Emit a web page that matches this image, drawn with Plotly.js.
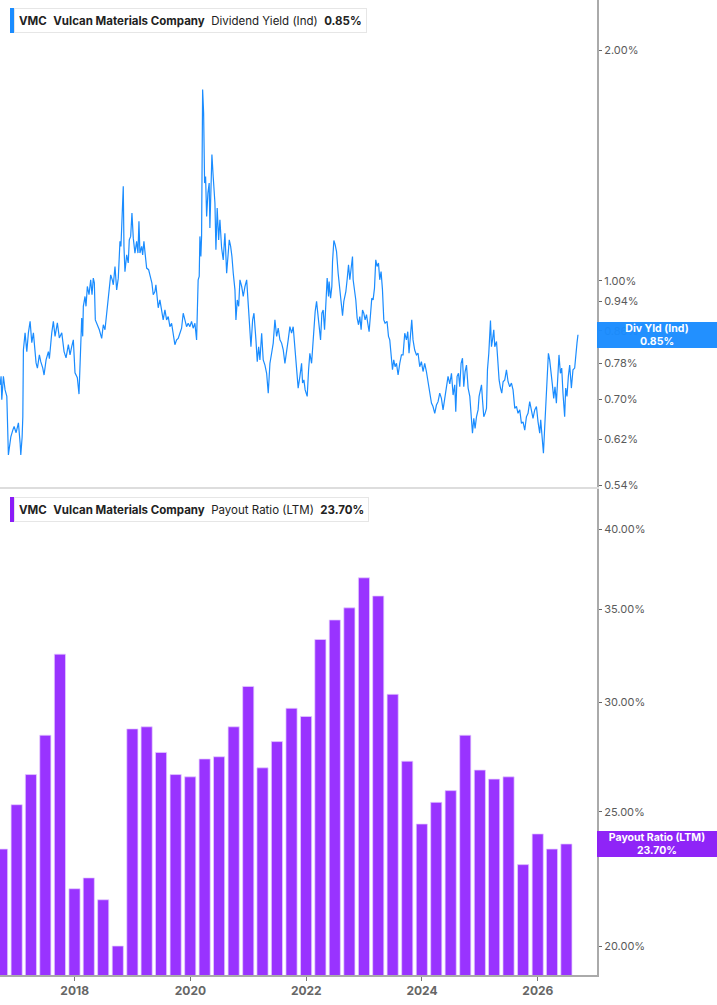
<!DOCTYPE html>
<html>
<head>
<meta charset="utf-8">
<script src="https://cdn.plot.ly/plotly-3.0.1.min.js"></script>
<style>
  html, body { margin: 0; padding: 0; background: #fff; }
  #chart { width: 717px; height: 1005px; }
</style>
</head>
<body>
<div id="chart"></div>
<script>
// dividend yield (Ind), in %, dates as decimal years
var yieldYears = [
  2016.712, 2016.729, 2016.741, 2016.769, 2016.798, 2016.828, 2016.855, 2016.897, 2016.931, 2016.954,
  2016.988, 2017.028, 2017.057, 2017.069, 2017.092, 2017.104, 2017.114, 2017.143, 2017.173, 2017.200,
  2017.230, 2017.259, 2017.287, 2017.316, 2017.333, 2017.356, 2017.390, 2017.414, 2017.449, 2017.471,
  2017.506, 2017.546, 2017.563, 2017.604, 2017.632, 2017.661, 2017.701, 2017.735, 2017.777, 2017.817,
  2017.851, 2017.891, 2017.920, 2017.949, 2017.977, 2018.006, 2018.046, 2018.075, 2018.093, 2018.122,
  2018.139, 2018.150, 2018.179, 2018.196, 2018.219, 2018.248, 2018.277, 2018.300, 2018.322, 2018.340,
  2018.357, 2018.391, 2018.426, 2018.467, 2018.495, 2018.524, 2018.554, 2018.581, 2018.598, 2018.623,
  2018.650, 2018.668, 2018.697, 2018.726, 2018.754, 2018.783, 2018.800, 2018.818, 2018.840, 2018.852,
  2018.869, 2018.899, 2018.926, 2018.944, 2018.968, 2018.990, 2019.013, 2019.042, 2019.071, 2019.094,
  2019.111, 2019.128, 2019.158, 2019.175, 2019.197, 2019.220, 2019.244, 2019.278, 2019.313, 2019.335,
  2019.358, 2019.387, 2019.404, 2019.427, 2019.444, 2019.473,
  2019.503, 2019.530, 2019.560, 2019.589, 2019.617, 2019.646, 2019.675, 2019.703, 2019.732, 2019.762,
  2019.789, 2019.819, 2019.848, 2019.876, 2019.905, 2019.934, 2019.962, 2019.991, 2020.020, 2020.048,
  2020.078, 2020.107, 2020.134, 2020.152, 2020.164, 2020.181, 2020.193, 2020.211, 2020.228, 2020.245,
  2020.262, 2020.280, 2020.302, 2020.324, 2020.336, 2020.354, 2020.371, 2020.393, 2020.423, 2020.440,
  2020.462, 2020.487, 2020.509, 2020.538, 2020.566, 2020.595, 2020.625, 2020.652, 2020.670, 2020.694,
  2020.716, 2020.739, 2020.768, 2020.785, 2020.808, 2020.832, 2020.854, 2020.884, 2020.911, 2020.941,
  2020.970, 2020.998, 2021.027, 2021.044, 2021.073, 2021.096, 2021.130, 2021.153, 2021.177, 2021.199,
  2021.229, 2021.256, 2021.286, 2021.315, 2021.343, 2021.372, 2021.401, 2021.429, 2021.458, 2021.488,
  2021.515, 2021.545, 2021.574, 2021.602, 2021.631, 2021.660, 2021.688, 2021.717, 2021.746, 2021.774,
  2021.803, 2021.833, 2021.860, 2021.890, 2021.919, 2021.936, 2021.959, 2021.981, 2022.016, 2022.040,
  2022.062, 2022.092, 2022.119, 2022.136, 2022.154, 2022.178, 2022.206, 2022.223, 2022.247, 2022.270,
  2022.292, 2022.316, 2022.339, 2022.361, 2022.385, 2022.395, 2022.420, 2022.442, 2022.454, 2022.477,
  2022.499, 2022.523, 2022.551, 2022.580, 2022.603, 2022.627, 2022.649, 2022.684, 2022.706, 2022.730,
  2022.753, 2022.782, 2022.799, 2022.810, 2022.834, 2022.856, 2022.879, 2022.903, 2022.925, 2022.948,
  2022.972, 2022.994, 2023.017, 2023.041, 2023.063, 2023.086, 2023.110, 2023.132, 2023.155, 2023.179,
  2023.201, 2023.224, 2023.248, 2023.270, 2023.293, 2023.317, 2023.340, 2023.362, 2023.396, 2023.421,
  2023.443, 2023.465, 2023.490, 2023.512, 2023.535, 2023.559, 2023.587, 2023.616, 2023.645, 2023.673,
  2023.702, 2023.731, 2023.754, 2023.776, 2023.800, 2023.823, 2023.845, 2023.874, 2023.904, 2023.932,
  2023.961, 2023.990, 2024.018, 2024.047, 2024.076, 2024.104, 2024.133, 2024.163, 2024.190, 2024.220,
  2024.249, 2024.277, 2024.306, 2024.335, 2024.363, 2024.392, 2024.422, 2024.449, 2024.479, 2024.508,
  2024.536, 2024.565, 2024.582, 2024.605, 2024.629, 2024.651, 2024.674, 2024.698, 2024.720, 2024.743,
  2024.767, 2024.795, 2024.824, 2024.853, 2024.870, 2024.893, 2024.915, 2024.939, 2024.967, 2024.984,
  2025.008, 2025.026, 2025.043, 2025.065, 2025.088, 2025.112, 2025.129, 2025.152, 2025.181, 2025.198,
  2025.216, 2025.238, 2025.255, 2025.285, 2025.307, 2025.330, 2025.354, 2025.376, 2025.399, 2025.428,
  2025.457, 2025.485, 2025.514, 2025.543, 2025.571, 2025.601, 2025.630, 2025.657, 2025.687, 2025.716,
  2025.744, 2025.773, 2025.802, 2025.830, 2025.859, 2025.888, 2025.916, 2025.946, 2025.975, 2026.003,
  2026.032, 2026.049, 2026.072, 2026.096, 2026.113, 2026.135, 2026.158, 2026.182, 2026.204, 2026.227,
  2026.251, 2026.274, 2026.296, 2026.320, 2026.343, 2026.365, 2026.389, 2026.412, 2026.434, 2026.463,
  2026.481, 2026.503, 2026.527, 2026.550, 2026.579, 2026.607, 2026.636, 2026.653, 2026.676, 2026.693
];
var yieldValues = [
  0.731, 0.750, 0.699, 0.750, 0.720, 0.706, 0.592, 0.625, 0.638, 0.645,
  0.633, 0.652, 0.614, 0.592, 0.625, 0.664, 0.812, 0.855, 0.808, 0.855,
  0.885, 0.830, 0.855, 0.808, 0.781, 0.769, 0.800, 0.784, 0.769, 0.753,
  0.788, 0.808, 0.791, 0.855, 0.885, 0.846, 0.881, 0.842, 0.855, 0.808,
  0.793, 0.825, 0.800, 0.820, 0.837, 0.758, 0.747, 0.711, 0.796, 0.894,
  0.846, 0.926, 0.954, 0.926, 0.983, 0.959, 1.003, 0.959, 1.008, 0.994,
  0.889, 0.876, 0.863, 0.841, 0.876, 0.863, 0.907, 0.954, 0.993, 1.018,
  1.003, 0.988, 1.044, 0.973, 1.008, 1.126, 1.109, 1.232, 1.329, 1.109,
  1.028, 1.081, 1.055, 1.131, 1.143, 1.226, 1.137, 1.087, 1.126, 1.087,
  1.196, 1.087, 1.109, 1.081, 1.126, 1.081, 1.039, 1.034, 1.013, 0.993,
  0.959, 0.968, 0.988, 0.954, 0.922, 0.944,
  0.907, 0.889, 0.916, 0.889, 0.898, 0.871, 0.880, 0.854, 0.825, 0.837,
  0.841, 0.854, 0.867, 0.907, 0.889, 0.871, 0.880, 0.871, 0.885, 0.867,
  0.880, 0.837, 1.003, 1.013, 1.143, 1.076, 1.143, 1.778, 1.658, 1.342,
  1.369, 1.214, 1.302, 1.342, 1.172, 1.356, 1.462, 1.369, 1.264, 1.098,
  1.245, 1.131, 1.202, 1.104, 1.065, 1.154, 1.023, 1.087, 1.131, 1.109,
  1.076, 1.023, 0.973, 0.889, 0.944, 0.926, 1.003, 0.983, 0.954, 0.983,
  1.003, 0.930, 0.846, 0.820, 0.889, 0.907, 0.837, 0.784, 0.820, 0.788,
  0.854, 0.788, 0.776, 0.757, 0.713, 0.780, 0.804, 0.829, 0.889, 0.846,
  0.867, 0.837, 0.829, 0.812, 0.780, 0.804, 0.837, 0.871, 0.854, 0.871,
  0.820, 0.776, 0.724, 0.750, 0.780, 0.735, 0.742, 0.720, 0.706, 0.765,
  0.804, 0.780, 0.837, 0.871, 0.912, 0.940, 0.894, 0.871, 0.837, 0.907,
  0.916, 0.863, 0.940, 1.008, 0.954, 0.998, 0.949, 0.983, 1.060, 1.129,
  1.115, 1.092, 1.023, 0.973, 0.930, 0.900, 0.940, 0.968, 1.003, 1.049,
  1.003, 1.065, 1.076, 1.003, 0.968, 0.944, 0.894, 0.876, 0.898, 0.863,
  0.916, 0.907, 0.889, 0.903, 0.880, 0.858, 0.903, 0.949, 0.944, 0.978,
  1.065, 1.044, 1.055, 1.003, 1.028, 0.973, 0.889, 0.880, 0.885, 0.846,
  0.837, 0.804, 0.765, 0.788, 0.772, 0.780, 0.753, 0.780, 0.800, 0.800,
  0.854, 0.837, 0.858, 0.804, 0.846, 0.889, 0.837, 0.812, 0.800, 0.804,
  0.772, 0.784, 0.761, 0.780, 0.761, 0.738, 0.720, 0.692, 0.685, 0.671,
  0.688, 0.695, 0.713, 0.702, 0.678, 0.702, 0.731, 0.750, 0.733, 0.757,
  0.709, 0.731, 0.674, 0.750, 0.757, 0.727, 0.780, 0.792, 0.727, 0.761,
  0.776, 0.724, 0.706, 0.658, 0.632, 0.661, 0.641, 0.664, 0.678, 0.706,
  0.720, 0.731, 0.699, 0.664, 0.671, 0.681, 0.765, 0.804, 0.887, 0.820,
  0.837, 0.863, 0.820, 0.833, 0.788, 0.742, 0.724, 0.713, 0.738, 0.742,
  0.765, 0.738, 0.727, 0.735, 0.720, 0.681, 0.685, 0.671, 0.678, 0.651,
  0.654, 0.638, 0.664, 0.671, 0.695, 0.674, 0.661, 0.678, 0.685, 0.654,
  0.632, 0.658, 0.622, 0.595, 0.632, 0.678, 0.742, 0.804, 0.788, 0.750,
  0.731, 0.702, 0.727, 0.692, 0.735, 0.800, 0.757, 0.769, 0.713, 0.664,
  0.724, 0.706, 0.750, 0.776, 0.724, 0.765, 0.769, 0.804, 0.829, 0.850
];

// payout ratio (LTM), quarterly, in %
var payoutDates = [
  '2016-09-30', '2016-12-31',
  '2017-03-31', '2017-06-30', '2017-09-30', '2017-12-31',
  '2018-03-31', '2018-06-30', '2018-09-30', '2018-12-31',
  '2019-03-31', '2019-06-30', '2019-09-30', '2019-12-31',
  '2020-03-31', '2020-06-30', '2020-09-30', '2020-12-31',
  '2021-03-31', '2021-06-30', '2021-09-30', '2021-12-31',
  '2022-03-31', '2022-06-30', '2022-09-30', '2022-12-31',
  '2023-03-31', '2023-06-30', '2023-09-30', '2023-12-31',
  '2024-03-31', '2024-06-30', '2024-09-30', '2024-12-31',
  '2025-03-31', '2025-06-30', '2025-09-30', '2025-12-31',
  '2026-03-31', '2026-06-30'
];
var payoutValues = [
  23.5, 25.3,
  26.6, 28.4, 32.5, 22.0,
  22.4, 21.6, 20.0, 28.7,
  28.8, 27.6, 26.6, 26.5,
  27.3, 27.4, 28.8, 30.8,
  26.9, 28.1, 29.7, 29.3,
  33.3, 34.4, 35.1, 36.9,
  35.8, 30.4, 27.2, 24.5,
  25.4, 25.9, 28.4, 26.8,
  26.4, 26.5, 22.9, 24.1,
  23.5, 23.7
];

var yieldTicks = [0.54, 0.62, 0.70, 0.78, 0.86, 0.94, 1.00, 2.00];
var payoutTicks = [20, 25, 30, 35, 40];
var yearTicks = ['2018-01-01', '2020-01-01', '2022-01-01', '2024-01-01', '2026-01-01'];
var yearLabels = ['2018', '2020', '2022', '2024', '2026'];

var lastYield = 0.85;
var lastPayout = 23.70;

function toDate(y) {
  var yr = Math.floor(y);
  var a = Date.UTC(yr, 0, 1), b = Date.UTC(yr + 1, 0, 1);
  return new Date(a + (y - yr) * (b - a)).toISOString().replace('T', ' ').replace('Z', '');
}

var blue = '#1a8cff';
var purple = '#8b1cf7';
var xRange = ['2016-09-17', '2027-01-09'];
var sp = '&nbsp;&nbsp;';

var yieldTrace = {
  x: yieldYears.map(toDate),
  y: yieldValues,
  type: 'scatter',
  mode: 'lines',
  line: { color: blue, width: 1.2 },
  xaxis: 'x', yaxis: 'y',
  hoverinfo: 'skip'
};

var payoutTrace = {
  x: payoutDates,
  y: payoutValues,
  type: 'bar',
  marker: { color: '#9933ff', line: { color: 'rgba(230,205,255,0.9)', width: 0.8 } },
  xaxis: 'x2', yaxis: 'y2',
  hoverinfo: 'skip'
};

var tickFont = { family: 'Inter, sans-serif', size: 11, color: '#5a5a5a' };

// header box in the top-left corner of a panel
function header(top, name, value) {
  return {
    xref: 'paper', yref: 'paper', x: 14 / 597.5, y: 1 - top / 975,
    xanchor: 'left', yanchor: 'top', showarrow: false, align: 'left',
    text: '<b>VMC</b>' + sp + '<b>Vulcan Materials Company</b>' + sp + name + sp + '<b>' + value + '</b>',
    font: { size: 11.5, color: '#222' },
    height: 15, bgcolor: '#ffffff', bordercolor: '#e6e6e6', borderwidth: 1, borderpad: 4
  };
}

// last-value flag on the right axis
function flag(yref, yval, line1, line2, color) {
  return {
    xref: 'paper', yref: yref, x: 1, y: Math.log10(yval),
    xanchor: 'left', yanchor: 'middle', showarrow: false, align: 'center',
    text: '<b>' + line1 + '</b><br><b>' + line2 + '</b>',
    font: { size: 10.5, color: '#ffffff' },
    bgcolor: color, bordercolor: color, borderwidth: 1, width: 118, height: 24, borderpad: 0,
    opacity: 0.96
  };
}

var layout = {
  width: 717,
  height: 1005,
  margin: { l: 0, r: 120, t: 0, b: 30 },
  paper_bgcolor: '#ffffff',
  plot_bgcolor: '#ffffff',
  showlegend: false,
  bargap: 0.22,
  font: { family: 'Inter, sans-serif', color: '#222' },
  xaxis: {
    type: 'date', range: xRange, anchor: 'y',
    showticklabels: false, ticks: '',
    showline: true, linecolor: '#dddddd', linewidth: 2,
    showgrid: false, zeroline: false
  },
  xaxis2: {
    type: 'date', range: xRange, anchor: 'y2',
    tickvals: yearTicks, ticktext: yearLabels,
    ticks: 'outside', ticklen: 4, tickcolor: '#777',
    showline: true, linecolor: '#aaaaaa', linewidth: 2,
    showgrid: false, zeroline: false,
    tickfont: { family: 'Inter, sans-serif', size: 12, color: '#666', weight: 'bold' }
  },
  yaxis: {
    domain: [0.5005, 1], type: 'log', range: [-0.2696, 0.3671],
    side: 'right', anchor: 'x',
    tickvals: yieldTicks,
    ticktext: yieldTicks.map(function (v) { return v.toFixed(2) + '%'; }),
    ticks: 'outside', ticklen: 3, tickcolor: '#666',
    showline: true, linecolor: '#aaaaaa', linewidth: 2,
    showgrid: false, zeroline: false,
    tickfont: tickFont
  },
  yaxis2: {
    domain: [0, 0.4985], type: 'log', range: [1.2801, 1.6312],
    side: 'right', anchor: 'x2',
    tickvals: payoutTicks,
    ticktext: payoutTicks.map(function (v) { return v.toFixed(2) + '%'; }),
    ticks: 'outside', ticklen: 3, tickcolor: '#666',
    showline: true, linecolor: '#aaaaaa', linewidth: 2,
    showgrid: false, zeroline: false,
    tickfont: tickFont
  },
  shapes: [
    { type: 'rect', xref: 'paper', yref: 'paper', x0: 10 / 597.5, x1: 14 / 597.5,
      y0: 1 - 33 / 975, y1: 1 - 8 / 975, fillcolor: blue, line: { width: 0 } },
    { type: 'rect', xref: 'paper', yref: 'paper', x0: 10 / 597.5, x1: 14 / 597.5,
      y0: 1 - 522 / 975, y1: 1 - 497 / 975, fillcolor: purple, line: { width: 0 } }
  ],
  annotations: [
    header(8, 'Dividend Yield (Ind)', lastYield.toFixed(2) + '%'),
    header(497, 'Payout Ratio (LTM)', lastPayout.toFixed(2) + '%'),
    flag('y', lastYield, 'Div Yld (Ind)', lastYield.toFixed(2) + '%', blue),
    flag('y2', lastPayout, 'Payout Ratio (LTM)', lastPayout.toFixed(2) + '%', purple)
  ]
};

Plotly.newPlot('chart', [yieldTrace, payoutTrace], layout, { displayModeBar: false, staticPlot: true });
</script>
</body>
</html>
